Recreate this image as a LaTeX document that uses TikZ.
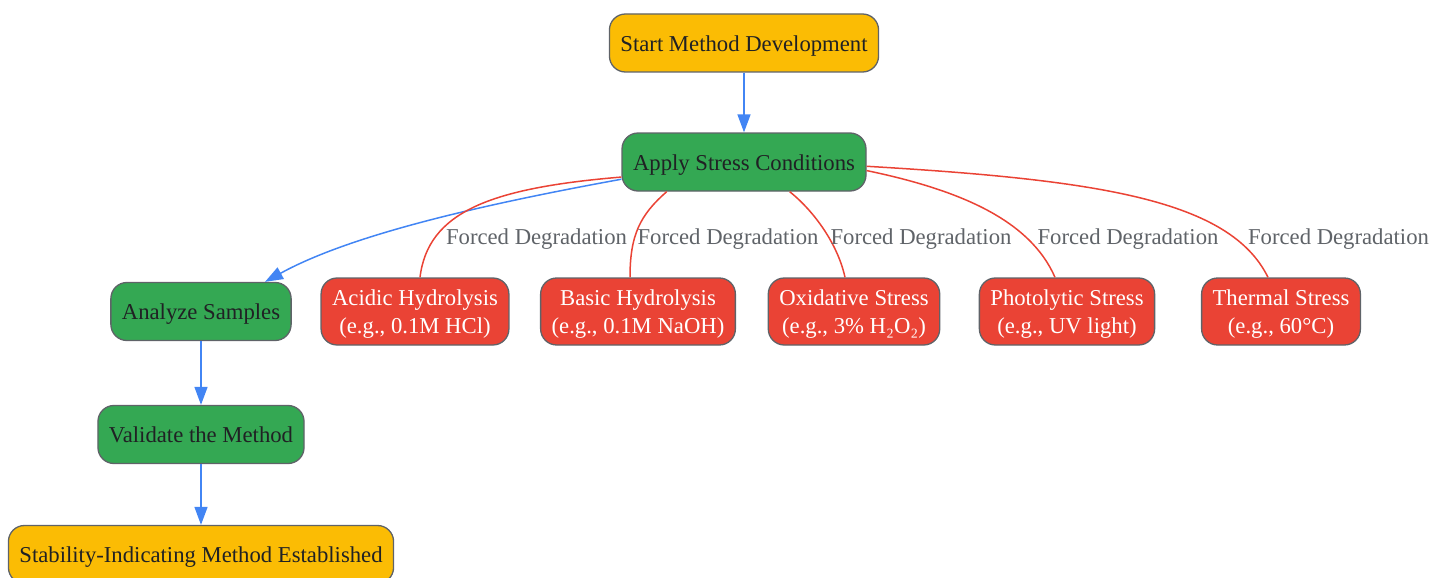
\documentclass[tikz,border=0pt]{standalone}
\usepackage{fontspec}
\setmainfont{Liberation Serif}
\usetikzlibrary{arrows.meta}

\definecolor{gyellow}{HTML}{FBBC04}
\definecolor{ggreen}{HTML}{34A853}
\definecolor{gred}{HTML}{EA4335}
\definecolor{gblue}{HTML}{4285F4}
\definecolor{gborder}{HTML}{5F6368}
\definecolor{gtext}{HTML}{202124}

\tikzset{
  box/.style={draw=gborder, line width=1.3pt, rounded corners=16pt, minimum height=58pt,
    inner xsep=11pt, inner ysep=4pt, align=center, font=\fontsize{22.7}{28}\selectfont,
    text height=21.5pt, text depth=5pt},
  yellowbox/.style={box, fill=gyellow, text=gtext},
  greenbox/.style={box, fill=ggreen, text=gtext},
  redbox/.style={box, fill=gred, text=white, minimum height=67pt, text height=49.5pt},
  flow/.style={draw=gblue, line width=1.5pt, -{Triangle[length=18pt,width=13pt]}},
  stress/.style={draw=gred, line width=1.5pt},
  lbl/.style={text=gborder, inner sep=0pt, font=\fontsize{22.7}{28}\selectfont}
}

\begin{document}
\begin{tikzpicture}[x=1pt,y=-1pt]
      \useasboundingbox (0,0) rectangle (1432,578);

      \node[yellowbox] (start) at (744,43) {Start Method Development};
      \node[greenbox, below of=start, node distance=119pt] (apply) {Apply Stress Conditions};
      \node[redbox] (acidic) at (415,311.5) {Acidic Hydrolysis\\(e.g., 0.1M HCl)};
      \node[redbox, right of=acidic, node distance=223pt] (basic) {Basic Hydrolysis\\(e.g., 0.1M NaOH)};
      \node[redbox, right of=basic, node distance=216pt] (oxid) {Oxidative Stress\\(e.g., 3\% H₂O₂)};
      \node[redbox, right of=oxid, node distance=213pt] (photo) {Photolytic Stress\\(e.g., UV light)};
      \node[redbox, right of=photo, node distance=214pt] (thermal) {Thermal Stress\\(e.g., 60°C)};
      \node[greenbox, left of=acidic, node distance=214pt] (analyze) {Analyze Samples};
      \node[greenbox, below of=analyze, node distance=123pt] (validate) {Validate the Method};
      \node[yellowbox, below of=validate, node distance=120pt] (stable) {Stability-Indicating Method Established};

      \draw[flow] (start) -- (apply);
      \draw[flow] (apply.188) .. controls (480,205) and (350,235) .. ([xshift=64pt]analyze.north);
      \draw[flow] (analyze) -- (validate);
      \draw[flow] (validate) -- (stable);

      \draw[stress] (apply.187) .. controls (490,188) and (428,212) .. ([xshift=5pt]acidic.north);
      \draw[stress] (apply.201) .. controls (640,215) and (630,235) .. ([xshift=-8pt]basic.north);
      \draw[stress] (apply.327) .. controls (815,212) and (838,245) .. ([xshift=-9pt]oxid.north);
      \draw[stress] (apply.356) .. controls (960,190) and (1030,220) .. ([xshift=-12pt]photo.north);
      \draw[stress] (apply.358) .. controls (1100,180) and (1230,200) .. ([xshift=-13pt]thermal.north);

      \node[lbl] (lblacid) at (536.5,239) {Forced Degradation};
      \node[lbl] (lblbasic) at (728,239) {Forced Degradation};
      \node[lbl] (lbloxid) at (921,239) {Forced Degradation};
      \node[lbl] (lblphoto) at (1128,239) {Forced Degradation};
      \node[lbl] (lblthermal) at (1338.5,239) {Forced Degradation};
    \end{tikzpicture}
\end{document}
